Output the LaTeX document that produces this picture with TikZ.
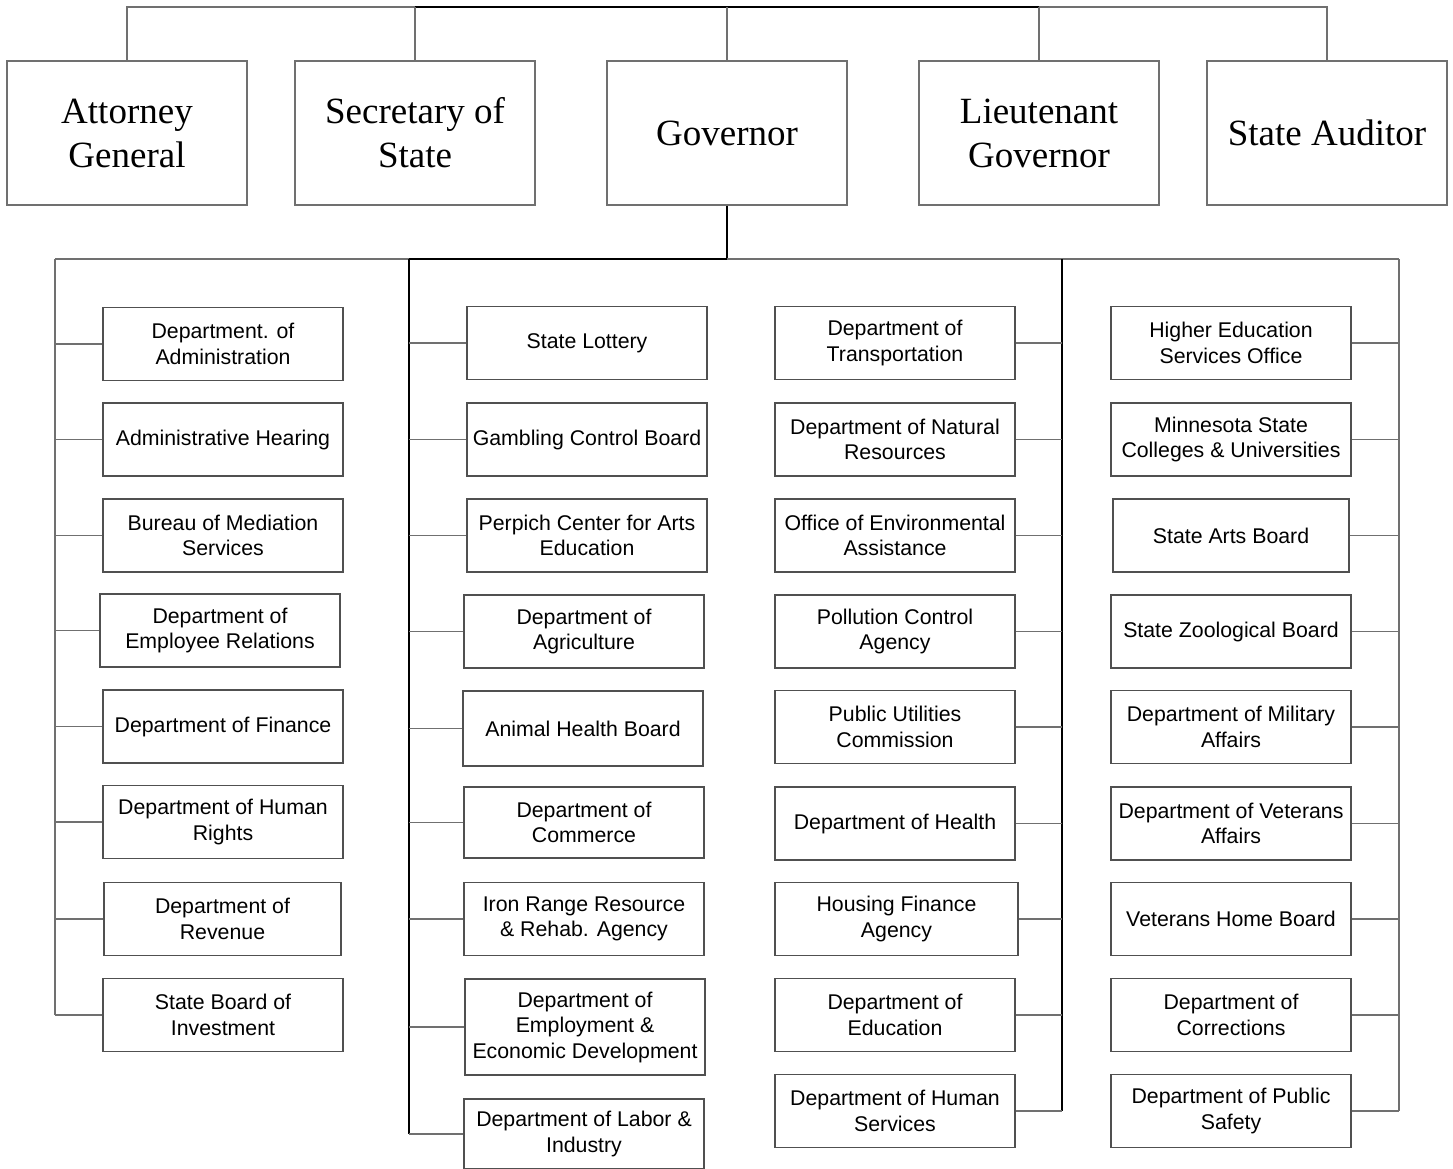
\documentclass[tikz,border=0pt]{standalone}
\usepackage{fontspec}
\newfontfamily\topfont{Liberation Serif}
\newfontfamily\deptfont{Liberation Sans}
\definecolor{lgray}{HTML}{707070}
\definecolor{bgray}{HTML}{505050}
\begin{document}
\begin{tikzpicture}[x=1pt,y=-1pt,
  topbox/.style={draw=lgray, line width=1.2pt, minimum width=240pt, minimum height=144pt, align=center,
     font=\topfont\fontsize{37}{44}\selectfont, inner sep=0pt},
  dept/.style={draw=bgray, line width=1.2pt, minimum width=240pt, minimum height=73pt, align=center,
     font=\deptfont\fontsize{21.3}{25.5}\selectfont, inner sep=0pt},
  gline/.style={draw=lgray, line width=1.3pt},
  bline/.style={draw=black, line width=2pt}]
\useasboundingbox (0,0) rectangle (1453,1168);
\fill[white] (0,0) rectangle (1453,1168);

% top row
\node[topbox] (ag)  at (127,133)  {Attorney\\General};
\node[topbox] (ss)  at (415,133)  {Secretary of\\State};
\node[topbox] (gov) at (727,133)  {Governor};
\node[topbox] (lg)  at (1039,133) {Lieutenant\\Governor};
\node[topbox] (sa)  at (1327,133) {State Auditor};

\coordinate (topbus) at (727,7);
\coordinate (lowbus) at (727,259);
\coordinate (c1) at (55,259);
\coordinate (c2) at (409,259);
\coordinate (c3) at (1062,259);
\coordinate (c4) at (1399,259);

% column 1
\node[dept] (a1) at (223,344)   {Department. of\\Administration};
\node[dept] (a2) at (223,439.5) {Administrative Hearing};
\node[dept] (a3) at (223,535.5) {Bureau of Mediation\\Services};
\node[dept] (a4) at (220,630.5) {Department of\\Employee Relations};
\node[dept] (a5) at (223,726.5) {Department of Finance};
\node[dept] (a6) at (223,822)   {Department of Human\\Rights};
\node[dept, minimum width=237pt] (a7) at (222.5,919) {Department of\\Revenue};
\node[dept] (a8) at (223,1015)  {State Board of\\Investment};

% column 2
\node[dept] (b1) at (587,343)   {State Lottery};
\node[dept] (b2) at (587,439.5) {Gambling Control Board};
\node[dept] (b3) at (587,535.5) {Perpich Center for Arts\\Education};
\node[dept] (b4) at (584,631.5) {Department of\\Agriculture};
\node[dept, minimum height=75pt] (b5) at (583,728.5) {Animal Health Board};
\node[dept, minimum height=71pt] (b6) at (584,822.5) {Department of\\Commerce};
\node[dept] (b7) at (584,919)   {Iron Range Resource\\\& Rehab. Agency};
\node[dept, minimum height=96pt] (b8) at (585,1027) {Department of\\Employment \&\\Economic Development};
\node[dept, minimum height=70pt] (b9) at (584,1134) {Department of Labor \&\\Industry};

% column 3
\node[dept] (e1) at (895,343)   {Department of\\Transportation};
\node[dept] (e2) at (895,439.5) {Department of Natural\\Resources};
\node[dept] (e3) at (895,535.5) {Office of Environmental\\Assistance};
\node[dept] (e4) at (895,631.5) {Pollution Control\\Agency};
\node[dept] (e5) at (895,727)   {Public Utilities\\Commission};
\node[dept] (e6) at (895,823.5) {Department of Health};
\node[dept, minimum width=243pt] (e7) at (896.5,919) {Housing Finance\\Agency};
\node[dept] (e8) at (895,1015)  {Department of\\Education};
\node[dept] (e9) at (895,1111)  {Department of Human\\Services};

% column 4
\node[dept] (f1) at (1231,343)   {Higher Education\\Services Office};
\node[dept] (f2) at (1231,439.5) {Minnesota State\\Colleges \& Universities};
\node[dept, minimum width=236pt] (f3) at (1231,535.5) {State Arts Board};
\node[dept] (f4) at (1231,631.5) {State Zoological Board};
\node[dept] (f5) at (1231,727)   {Department of Military\\Affairs};
\node[dept] (f6) at (1231,823.5) {Department of Veterans\\Affairs};
\node[dept] (f7) at (1231,919)   {Veterans Home Board};
\node[dept] (f8) at (1231,1015)  {Department of\\Corrections};
\node[dept] (f9) at (1231,1111)  {Department of Public\\Safety};

% top connectors
\draw[gline] (ag.north) -- (ag.north |- topbus) -- (ss.north |- topbus);
\draw[gline] (sa.north) -- (sa.north |- topbus) -- (lg.north |- topbus);
\draw[bline] (ss.north |- topbus) -- (lg.north |- topbus);
\draw[gline] (ss.north) -- (ss.north |- topbus);
\draw[gline] (gov.north) -- (topbus);
\draw[gline] (lg.north) -- (lg.north |- topbus);

% governor down
\draw[bline] (gov.south) -- (lowbus) -- (c2);
\draw[gline] (c2) -- (c1);
\draw[gline] (lowbus) -- (c4);

% spines
\draw[gline] (c1) -- (c1 |- a8.west);
\draw[bline] (c2) -- (c2 |- b9.west);
\draw[bline] (c3) -- (c3 |- e9.east);
\draw[gline] (c4) -- (c4 |- f9.east);

% branches
\foreach \n in {a1,a2,a3,a4,a5,a6,a7,a8}
  \draw[gline] (\n.west) -- (\n.west -| c1);
\foreach \n in {b1,b2,b3,b4,b5,b6,b7,b8,b9}
  \draw[gline] (\n.west) -- (\n.west -| c2);
\foreach \n in {e1,e2,e3,e4,e5,e6,e7,e8,e9}
  \draw[gline] (\n.east) -- (\n.east -| c3);
\foreach \n in {f1,f2,f3,f4,f5,f6,f7,f8,f9}
  \draw[gline] (\n.east) -- (\n.east -| c4);
\end{tikzpicture}
\end{document}
